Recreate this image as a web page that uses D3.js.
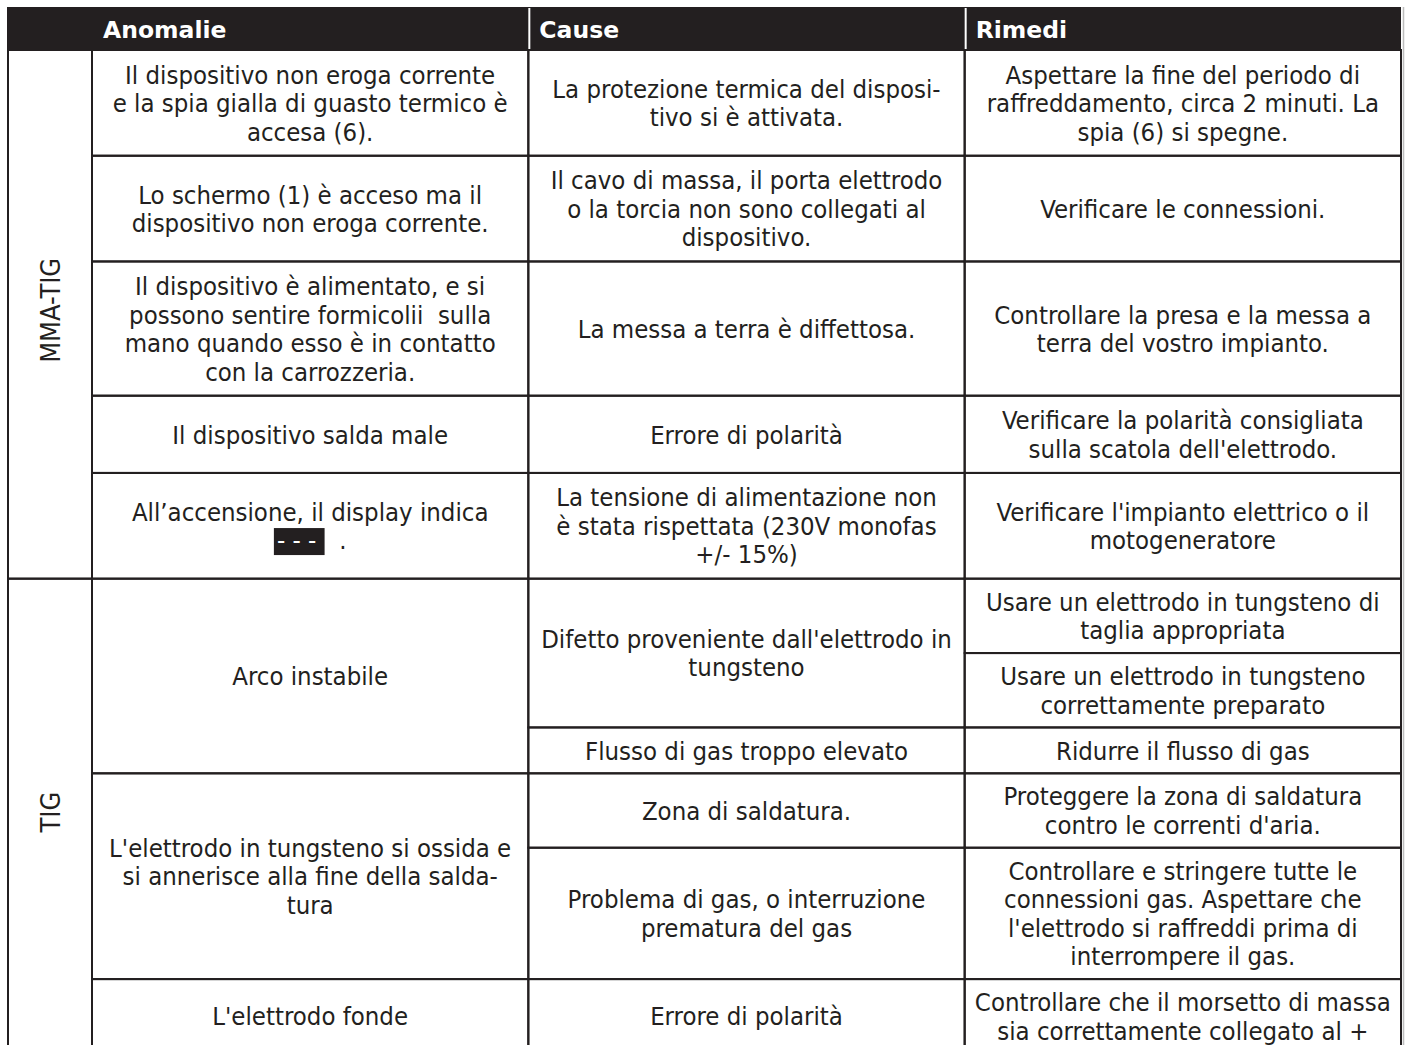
<!DOCTYPE html>
<html>
<head>
<meta charset="utf-8">
<script src="https://cdn.jsdelivr.net/npm/d3@7"></script>
<style>
  html, body { margin: 0; padding: 0; background: #ffffff; }
  svg { display: block; }
  text { white-space: pre; }
</style>
</head>
<body>
<svg id="chart" width="1407" height="1045"></svg>
<script>
// ---------------- DATA ----------------
const headers = ["Anomalie", "Cause", "Rimedi"];

const groups = [
  { label: "MMA-TIG", from: 0, to: 5 },
  { label: "TIG", from: 5, to: 11 }
];

// anomalies: text lines + span over remedy rows [from, to)
const anomalie = [
  { lines: ["Il dispositivo non eroga corrente", "e la spia gialla di guasto termico è", "accesa (6)."], from: 0, to: 1 },
  { lines: ["Lo schermo (1) è acceso ma il", "dispositivo non eroga corrente."], from: 1, to: 2 },
  { lines: ["Il dispositivo è alimentato, e si", "possono sentire formicolii  sulla", "mano quando esso è in contatto", "con la carrozzeria."], from: 2, to: 3 },
  { lines: ["Il dispositivo salda male"], from: 3, to: 4 },
  { lines: ["All’accensione, il display indica", "[- - - ]  ."], from: 4, to: 5 },
  { lines: ["Arco instabile"], from: 5, to: 8 },
  { lines: ["L'elettrodo in tungsteno si ossida e", "si annerisce alla fine della salda-", "tura"], from: 8, to: 10 },
  { lines: ["L'elettrodo fonde"], from: 10, to: 11 }
];

const cause = [
  { lines: ["La protezione termica del disposi-", "tivo si è attivata."], from: 0, to: 1 },
  { lines: ["Il cavo di massa, il porta elettrodo", "o la torcia non sono collegati al", "dispositivo."], from: 1, to: 2 },
  { lines: ["La messa a terra è diffettosa."], from: 2, to: 3 },
  { lines: ["Errore di polarità"], from: 3, to: 4 },
  { lines: ["La tensione di alimentazione non", "è stata rispettata (230V monofas", "+/- 15%)"], from: 4, to: 5 },
  { lines: ["Difetto proveniente dall'elettrodo in", "tungsteno"], from: 5, to: 7 },
  { lines: ["Flusso di gas troppo elevato"], from: 7, to: 8 },
  { lines: ["Zona di saldatura."], from: 8, to: 9 },
  { lines: ["Problema di gas, o interruzione", "prematura del gas"], from: 9, to: 10 },
  { lines: ["Errore di polarità"], from: 10, to: 11 }
];

const rimedi = [
  ["Aspettare la fine del periodo di", "raffreddamento, circa 2 minuti. La", "spia (6) si spegne."],
  ["Verificare le connessioni."],
  ["Controllare la presa e la messa a", "terra del vostro impianto."],
  ["Verificare la polarità consigliata", "sulla scatola dell'elettrodo."],
  ["Verificare l'impianto elettrico o il", "motogeneratore"],
  ["Usare un elettrodo in tungsteno di", "taglia appropriata"],
  ["Usare un elettrodo in tungsteno", "correttamente preparato"],
  ["Ridurre il flusso di gas"],
  ["Proteggere la zona di saldatura", "contro le correnti d'aria."],
  ["Controllare e stringere tutte le", "connessioni gas. Aspettare che", "l'elettrodo si raffreddi prima di", "interrompere il gas."],
  ["Controllare che il morsetto di massa", "sia correttamente collegato al +"]
];

// ---------------- LAYOUT ----------------
const INK = "#231f20";
const LINE_H = 28.5;                 // px per text line
const GROUP_PAD = [0.71, 0.61];      // row padding (line units) per group
const FONT = "'DejaVu Sans Condensed', 'DejaVu Sans', sans-serif";
const FS = 25.5;

const svg = d3.select("#chart");

// row weights (in line units) from the max number of lines of the cells that sit only in that row
const rowLines = rimedi.map(r => r.length);
[...anomalie, ...cause].forEach(c => {
  if (c.to - c.from === 1) rowLines[c.from] = Math.max(rowLines[c.from], c.lines.length);
});
const rowUnits = rowLines.map((n, i) => {
  const gi = groups.findIndex(g => i >= g.from && i < g.to);
  return n + GROUP_PAD[gi];
});
const cum = [0];
rowUnits.forEach(u => cum.push(cum[cum.length - 1] + u));

const tableTop = 7, headerBottom = 50;
const y = d3.scaleLinear().domain([0, 1]).range([headerBottom, headerBottom + LINE_H]);
const rowY = i => y(cum[i]);

// columns: group column + 3 content columns
const x = d3.scaleLinear().domain([0, 3]).range([92, 1401]);
const xLeft = 8;
const colX = [xLeft, x(0), x(1), x(2), x(3)];

// header
svg.append("rect")
  .attr("x", xLeft - 1).attr("y", tableTop)
  .attr("width", colX[4] - xLeft + 1).attr("height", headerBottom - tableTop)
  .attr("fill", INK);

svg.selectAll("line.hsep").data([1, 2]).enter().append("line")
  .attr("x1", d => x(d) + 1).attr("x2", d => x(d) + 1)
  .attr("y1", tableTop + 1).attr("y2", headerBottom)
  .attr("stroke", "#ffffff").attr("stroke-width", 2);

svg.selectAll("text.head").data(headers).enter().append("text")
  .attr("x", (d, i) => x(i) + 11)
  .attr("y", 38)
  .attr("fill", "#ffffff")
  .attr("font-family", "'DejaVu Sans', sans-serif")
  .attr("font-weight", "bold")
  .attr("font-size", 23.5)
  .text(d => d);

// light shadow along the right border
svg.append("line")
  .attr("x1", colX[4] + 2.5).attr("x2", colX[4] + 2.5)
  .attr("y1", tableTop).attr("y2", 1045)
  .attr("stroke", "#bdbdbd").attr("stroke-width", 1.5);

// cells
const cells = [];
groups.forEach(g => cells.push({ col: 0, from: g.from, to: g.to, lines: [g.label], rotate: true }));
anomalie.forEach(a => cells.push({ col: 1, from: a.from, to: a.to, lines: a.lines }));
cause.forEach(c => cells.push({ col: 2, from: c.from, to: c.to, lines: c.lines }));
rimedi.forEach((r, i) => cells.push({ col: 3, from: i, to: i + 1, lines: r }));

const gCells = svg.append("g");

gCells.selectAll("rect.cell").data(cells).enter().append("rect")
  .attr("x", d => colX[d.col])
  .attr("y", d => rowY(d.from))
  .attr("width", d => colX[d.col + 1] - colX[d.col])
  .attr("height", d => rowY(d.to) - rowY(d.from))
  .attr("fill", "none")
  .attr("stroke", INK)
  .attr("stroke-width", 2);

const gText = svg.append("g")
  .attr("font-family", FONT)
  .attr("font-size", FS)
  .attr("fill", INK);

cells.forEach(d => {
  const cx = (colX[d.col] + colX[d.col + 1]) / 2;
  const cy = (rowY(d.from) + rowY(d.to)) / 2;
  if (d.rotate) {
    gText.append("text")
      .attr("transform", `translate(${cx},${cy - 4}) rotate(-90)`)
      .attr("text-anchor", "middle")
      .attr("dy", "0.36em")
      .attr("font-size", 27)
      .text(d.lines[0]);
    return;
  }
  const n = d.lines.length;
  d.lines.forEach((ln, i) => {
    const ly = cy + (i - (n - 1) / 2) * LINE_H;
    const m = ln.match(/^\[(.*)\](.*)$/);
    if (m) {
      // highlighted display code (white on black) followed by plain text
      const t1 = gText.append("text").attr("y", ly).attr("dy", "0.36em").attr("fill", "#ffffff")
        .attr("xml:space", "preserve").text(m[1]);
      const t2 = gText.append("text").attr("y", ly).attr("dy", "0.36em")
        .attr("xml:space", "preserve").text(m[2]);
      const w1 = t1.node().getComputedTextLength() + 4;
      const w2 = t2.node().getComputedTextLength();
      const x0 = cx - (w1 + w2) / 2;
      gText.insert("rect", () => t1.node())
        .attr("x", x0).attr("y", ly - 12).attr("width", w1).attr("height", 27)
        .attr("fill", INK);
      t1.attr("x", x0 + 3);
      t2.attr("x", x0 + w1);
    } else {
      gText.append("text")
        .attr("x", cx).attr("y", ly)
        .attr("dy", "0.36em")
        .attr("text-anchor", "middle")
        .attr("xml:space", "preserve")
        .text(ln);
    }
  });
});
</script>
</body>
</html>
